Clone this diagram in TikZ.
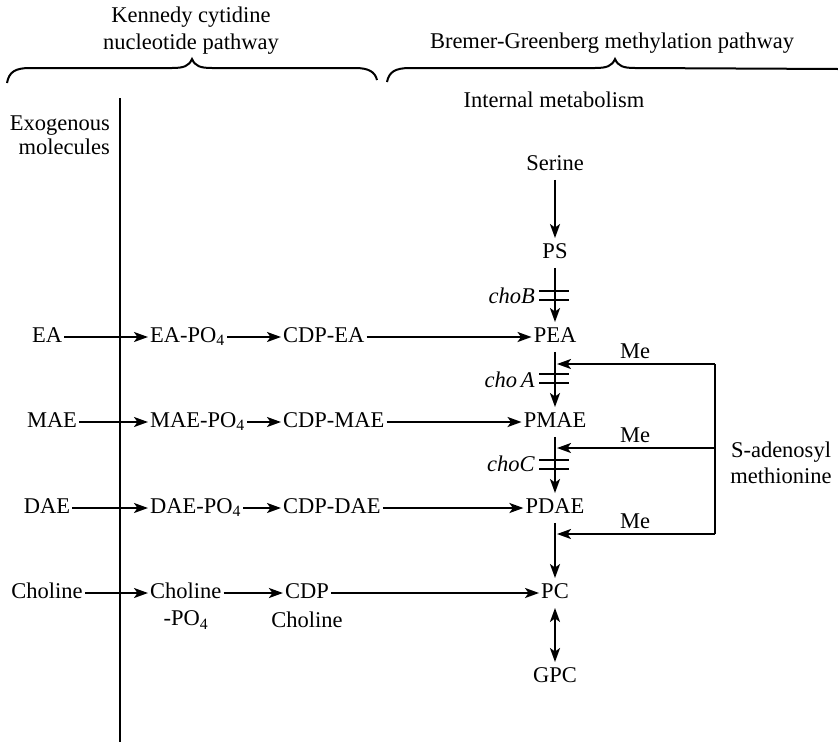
\documentclass[tikz,border=0pt]{standalone}
\usepackage{fontspec}
\setmainfont{Liberation Serif}
\usetikzlibrary{arrows.meta}
\begin{document}
\begin{tikzpicture}[x=1pt,y=-1pt,
  lbl/.style={font=\fontsize{22.5}{27}\selectfont, inner xsep=2pt, inner ysep=5pt, text height=15.5pt, text depth=4pt},
  txt/.style={font=\fontsize{22.5}{27}\selectfont, inner sep=0pt, align=center},
  ln/.style={line width=2pt},
  arr/.style={line width=2pt, -{Stealth[length=14pt,width=10pt,inset=3.5pt]}},
  darr/.style={line width=2pt, {Stealth[length=14pt,width=10pt,inset=3.5pt]}-{Stealth[length=14pt,width=10pt,inset=3.5pt]}}
]
\useasboundingbox (0,0) rectangle (838,742);

% headers
\node[txt] (kennedy) at (191,31) {Kennedy cytidine\\nucleotide pathway};
\node[txt] (bremer) at (612,43) {Bremer-Greenberg methylation pathway};
\node[txt] (internal) at (554,100) {Internal metabolism};
\node[txt, align=right, anchor=east, font=\fontsize{22.5}{24}\selectfont] (exo) at (110,135) {Exogenous\\molecules};

% braces
\draw[ln] (7,83) .. controls (9,72) and (15,68) .. (30,68) -- (172,68)
  .. controls (184,68) and (189,66) .. (192,59)
  .. controls (195,66) and (200,68) .. (212,68) -- (355,68)
  .. controls (369,68) and (375,72) .. (377,80);
\draw[ln] (387,82) .. controls (389,72) and (395,68) .. (410,68) -- (595,68)
  .. controls (607,68) and (612,66) .. (615,59)
  .. controls (618,66) and (623,68) .. (635,68) -- (838,69);

% separator line
\coordinate (vtop) at (120,98);
\coordinate (vbot) at (120,742);
\draw[ln] (vtop) -- (vbot);

% right column
\node[lbl] (serine) at (555,165) {Serine};
\node[lbl] (ps) at (555,253) {PS};
\node[lbl] (pea) at (555,337) {PEA};
\node[lbl] (pmae) at (555,422) {PMAE};
\node[lbl] (pdae) at (555,508) {PDAE};
\node[lbl] (pc) at (555,593) {PC};
\node[lbl] (gpc) at (555,677) {GPC};

\draw[arr] (serine) -- (ps);
\draw[arr] (ps) -- (pea);
\draw[arr] (pea) -- (pmae);
\draw[arr] (pmae) -- (pdae);
\draw[arr] (pdae) -- (pc);
\draw[darr] (pc) -- (gpc);

% gene blocks
\foreach \yy in {295,378.5,464}{
  \draw[ln] (539,{\yy-4.5}) -- (569,{\yy-4.5});
  \draw[ln] (539,{\yy+4.5}) -- (569,{\yy+4.5});
}
\node[txt, anchor=east] (chob) at (535,296) {\textit{choB}};
\node[txt, anchor=east] (choa) at (535,380) {\textit{cho\,A}};
\node[txt, anchor=east] (choc) at (535,464) {\textit{choC}};

% methyl donors
\coordinate (m1s) at (715,364);
\coordinate (m2s) at (715,448);
\coordinate (m3s) at (715,534);
\coordinate (m1e) at (557,364);
\coordinate (m2e) at (557,448);
\coordinate (m3e) at (557,534);
\draw[ln] (m1s) -- (m3s);
\draw[arr] (m1s) -- (m1e);
\draw[arr] (m2s) -- (m2e);
\draw[arr] (m3s) -- (m3e);
\node[txt] (me1) at (635,351) {Me};
\node[txt] (me2) at (635,435) {Me};
\node[txt] (me3) at (635,521) {Me};
\node[txt, font=\fontsize{22.5}{26}\selectfont] (sam) at (781,463) {S-adenosyl\\methionine};

% left rows
\node[lbl] (ea) at (47,337) {EA};
\node[lbl, anchor=west] (eapo) at (148,337) {EA-PO\textsubscript{4}};
\node[lbl, anchor=west] (cdpea) at (281,337) {CDP-EA};
\draw[arr] (ea.east) -- (eapo.west);
\draw[arr] (eapo.east) -- (cdpea.west);
\draw[arr] (cdpea.east) -- (pea.west);

\node[lbl] (mae) at (52,422) {MAE};
\node[lbl, anchor=west] (maepo) at (148,422) {MAE-PO\textsubscript{4}};
\node[lbl, anchor=west] (cdpmae) at (281,422) {CDP-MAE};
\draw[arr] (mae.east) -- (maepo.west);
\draw[arr] (maepo.east) -- (cdpmae.west);
\draw[arr] (cdpmae.east) -- (pmae.west);

\node[lbl] (dae) at (47,508) {DAE};
\node[lbl, anchor=west] (daepo) at (148,508) {DAE-PO\textsubscript{4}};
\node[lbl, anchor=west] (cdpdae) at (281,508) {CDP-DAE};
\draw[arr] (dae.east) -- (daepo.west);
\draw[arr] (daepo.east) -- (cdpdae.west);
\draw[arr] (cdpdae.east) -- (pdae.west);

\node[lbl] (chol) at (47,593) {Choline};
\node[lbl, anchor=west] (cholpo) at (148,593) {Choline};
\node[txt] (cholpo2) at (186,620) {-PO\textsubscript{4}};
\node[lbl] (cdpc) at (307,593) {CDP};
\node[txt] (cdpc2) at (307,620) {Choline};
\draw[arr] (chol.east) -- (cholpo.west);
\draw[arr] (cholpo.east) -- (cdpc.west);
\draw[arr] (cdpc.east) -- (pc.west);
\end{tikzpicture}
\end{document}
